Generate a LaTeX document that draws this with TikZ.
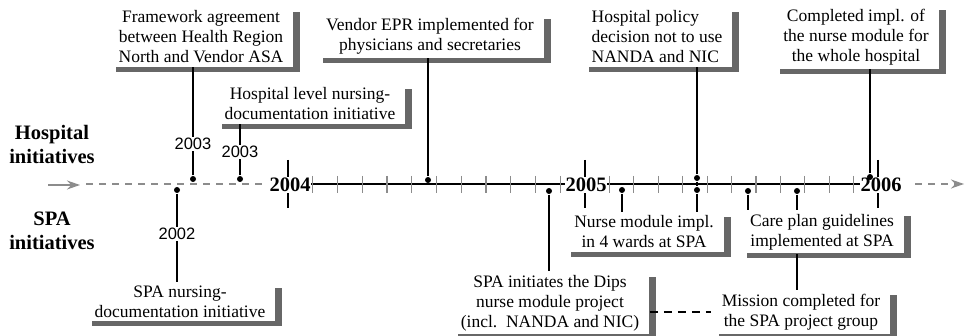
\documentclass[tikz,border=0pt]{standalone}
\usepackage{fontspec}
\setmainfont{Liberation Serif}
\newfontfamily\yearfont{Liberation Sans}
\usetikzlibrary{positioning}
\usetikzlibrary{arrows.meta}
\usetikzlibrary{shadows}
\definecolor{axisgray}{rgb}{0.55,0.55,0.55}

\begin{document}
\begin{tikzpicture}[
            x = 1pt, y = -1pt, % one unit per pixel, y pointing down
            > = {Stealth[length=13pt, width=9pt]}, % arrow head style
            line width = 1.2pt % line style
        ]

        \tikzstyle{event}=[
            fill = white,
            align = center,
            inner xsep = 10pt,
            inner ysep = 3.5pt,
            font = \fontsize{17.5}{20}\selectfont,
            drop shadow = {shadow xshift=7pt, shadow yshift=-5pt, fill=black!70, opacity=.85}
        ]
        \tikzstyle{dot}=[circle, fill, inner sep=0pt, minimum size=6pt]
        \tikzstyle{year}=[fill=white, inner sep=1.5pt, font=\yearfont\fontsize{16.5}{18}\selectfont]
        \tikzstyle{axisyear}=[fill=white, inner xsep=0.5pt, inner ysep=1pt, font=\bfseries\fontsize{20.5}{22}\selectfont]
        \tikzstyle{side}=[align=center, font=\bfseries\fontsize{20.5}{24}\selectfont]
        \tikzstyle{tick}=[axisgray, line width=1.1pt]

        \useasboundingbox (0,0) rectangle (965,336);

        % row labels
        \node[side] (HOSP) at (52,144) {Hospital\\initiatives};
        \node[side] (SPA) at (52,231) {SPA\\initiatives};

        % time axis
        \coordinate (L0) at (48,185);
        \coordinate (L1) at (80,185);
        \coordinate (L2) at (86,184);
        \coordinate (L3) at (262,184);
        \coordinate (Y4) at (288,184);
        \coordinate (Y5) at (585,184);
        \coordinate (Y6) at (878,184);
        \coordinate (R1) at (915,184);
        \coordinate (R2) at (964,184);

        \draw[axisgray, ->] (L0) -- (L1);
        \draw[axisgray, dash pattern=on 7pt off 6pt] (L2) -- (L3);
        \draw[axisgray, dash pattern=on 7pt off 6pt, ->] (R1) -- (R2);
        \draw (Y4) -- (Y6);

        % months
        \foreach \k in {1,...,11} {
            \draw[tick] ({288+\k*24.75},176) -- ({288+\k*24.75},193);
            \draw[tick] ({585+\k*24.42},176) -- ({585+\k*24.42},193);
        }
        % years
        \foreach \x in {288,585,878}
            \draw (\x,160) -- (\x,208);
        \node[axisyear] (T4) at (290,185) {2004};
        \node[axisyear] (T5) at (586,185) {2005};
        \node[axisyear] (T6) at (881,185) {2006};

        % hospital initiatives
        \node[event] (FA) at (201,37) {Framework agreement\\between Health Region\\North and Vendor ASA};
        \node[event] (HL) at (310,104) {Hospital level nursing-\\documentation initiative};
        \node[event] (EPR) at (430,36) {Vendor EPR implemented for\\physicians and secretaries};
        \node[event, align=left] (POL) at (657,37) {Hospital policy\\decision not to use\\NANDA and NIC};
        \node[event] (CI) at (856,37) {Completed impl. of\\the nurse module for\\the whole hospital};

        \node[dot] (FAd) at (193,179) {};
        \node[dot] (HLd) at (240,179) {};
        \node[dot] (EPRd) at (428,180) {};
        \node[dot] (POLd) at (697,178) {};
        \node[dot] (CId) at (870,177) {};

        \draw (FAd) -- (FAd |- FA.south);
        \draw (HLd) -- (HLd |- HL.south);
        \draw (EPRd) -- (EPRd |- EPR.south);
        \draw (POLd) -- (POLd |- POL.south);
        \draw (CId) -- (CId |- CI.south);

        \node[year] (FAy) at (193,144) {2003};
        \node[year] (HLy) at (240,152) {2003};

        % SPA initiatives
        \node[event] (SND) at (180,302) {SPA nursing-\\documentation initiative};
        \node[event] (DIPS) at (550,303) {SPA initiates the Dips\\nurse module project\\(incl.\ \ NANDA and NIC)};
        \node[event] (NM) at (644,232) {Nurse module impl.\\in 4 wards at SPA};
        \node[event] (CP) at (822,232) {Care plan guidelines\\implemented at SPA};
        \node[event] (MC) at (801,312) {Mission completed for\\the SPA project group};

        \node[dot] (SNDd) at (177,190) {};
        \node[dot] (DIPSd) at (549,191) {};
        \node[dot] (NMd1) at (622,190) {};
        \node[dot] (NMd2) at (697,190) {};
        \node[dot] (CPd1) at (748,191) {};
        \node[dot] (CPd2) at (797,191) {};

        \draw (SNDd) -- (SNDd |- SND.north);
        \draw (DIPSd) -- (DIPSd |- DIPS.north);
        \draw (NMd1) -- (NMd1 |- NM.north);
        \draw (POLd) -- (NMd2) -- (NMd2 |- NM.north);
        \draw (CPd1) -- (CPd1 |- CP.north);
        \draw (CPd2) -- (CPd2 |- CP.north);
        \draw (CPd2 |- CP.south) -- (CPd2 |- MC.north);
        \draw[dash pattern=on 8pt off 6pt] (DIPS.east |- MC.west) -- (MC.west);

        \node[year] (SNDy) at (177,234) {2002};

  \end{tikzpicture}
\end{document}
